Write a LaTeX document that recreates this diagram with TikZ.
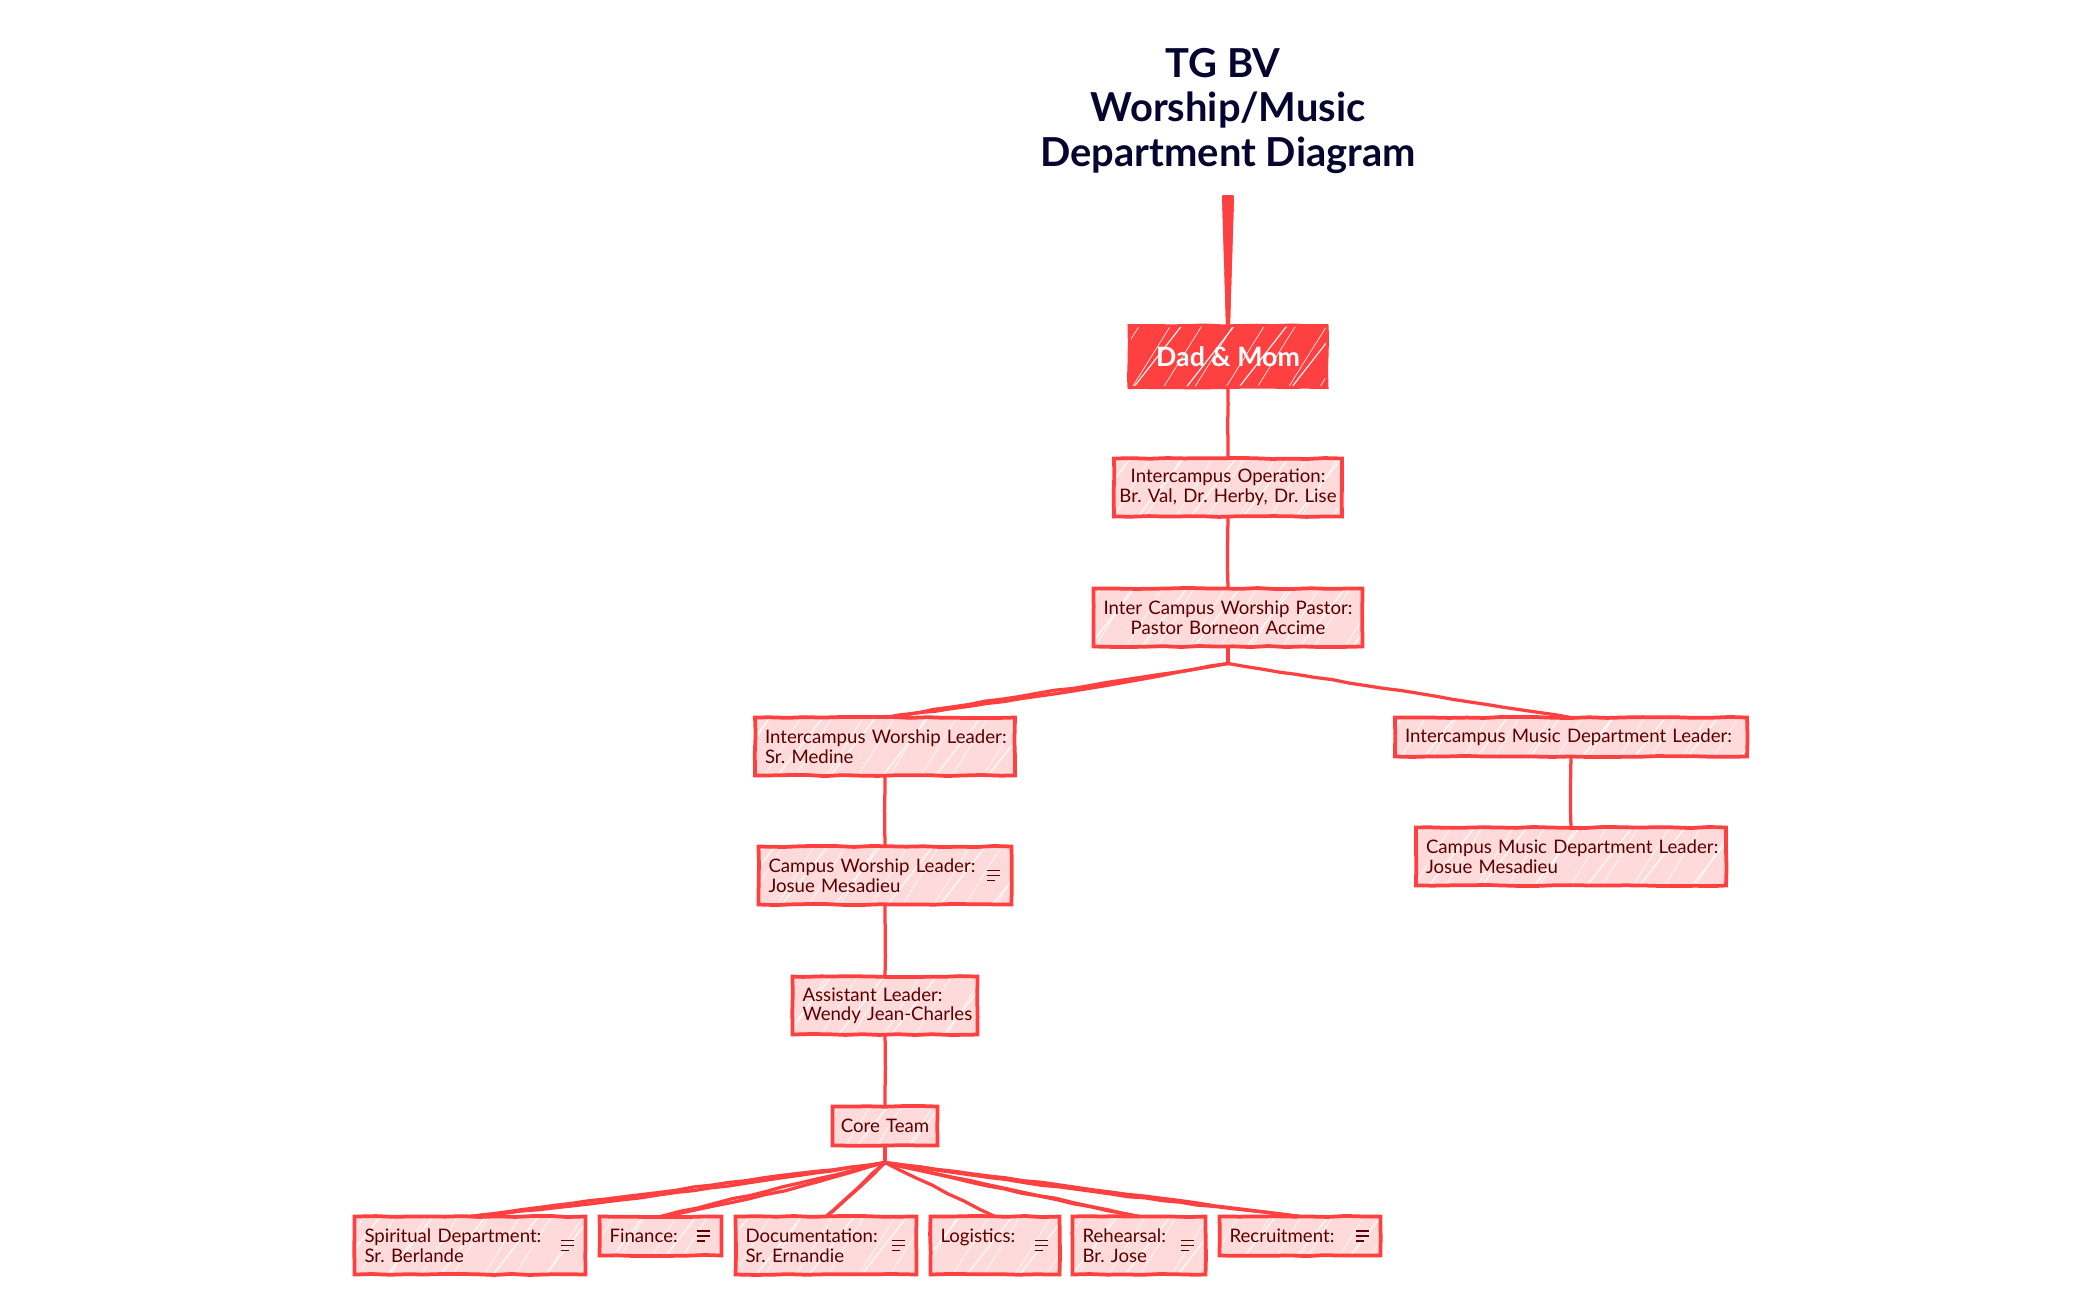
\documentclass[tikz,border=0pt]{standalone}
\usepackage{xcolor}
\usepackage{fontspec}
\setmainfont{Lato}
\usetikzlibrary{positioning, calc, patterns.meta, decorations.pathmorphing}
\definecolor{linered}{HTML}{FF4040}
\definecolor{boxpink}{HTML}{FFDADA}
\definecolor{textmaroon}{HTML}{5A0000}
\definecolor{titlenavy}{HTML}{05052F}
\frenchspacing

\begin{document}
\begin{tikzpicture}[
    sketch/.style={decorate, decoration={random steps, segment length=0.35cm, amplitude=0.012cm}},
    hachure/.style={preaction={fill=#1},
        preaction={pattern={Lines[angle=58, distance=0.53cm, line width=0.012cm]}, pattern color=white},
        preaction={pattern={Lines[angle=52, distance=0.83cm, line width=0.022cm]}, pattern color=white}},
    box/.style={rectangle, draw=linered, line width=0.075cm, hachure=boxpink, sketch, outer sep=0pt,
        inner xsep=0.2cm, inner ysep=0.1cm, minimum height=1.16cm, text=textmaroon, align=left,
        font=\fontsize{10.6}{11.1}\selectfont},
    short/.style={minimum height=0.78cm},
    middle/.style={align=center, inner xsep=0.05cm},
    rootbox/.style={rectangle, draw=linered, line width=0.06cm, hachure=linered, sketch, outer sep=0pt,
        minimum width=3.96cm, minimum height=1.24cm, text=white, font=\fontsize{15.2}{20}\selectfont\bfseries},
    link/.style={draw=linered, line width=0.065cm, line join=round, sketch}
]
\useasboundingbox (0,0) rectangle (42,-25.98);
\pgfmathsetseed{11}

% Title
\node[align=center, text=titlenavy, font=\fontsize{22.7}{25.2}\selectfont\bfseries] (title) at (24.56,-2.22)
    {TG BV\hspace*{0.2cm}\\Worship/Music\hspace*{0.2cm}\\Department Diagram};
\coordinate (stemtop) at (24.56,-3.9);

% Top of the chain
\node[rootbox] (dad) at (24.56,-7.13) {Dad \& Mom};
\node[box, middle, text width=4.46cm, below=1.42cm of dad] (operation) {Intercampus Operation:\\Br. Val, Dr. Herby, Dr. Lise};
\node[box, middle, text width=5.28cm, below=1.44cm of operation] (pastor) {Inter Campus Worship Pastor:\\Pastor Borneon Accime};
\coordinate[below=0.34cm of pastor] (pastorjoin);

% Worship side
\node[box, text width=4.8cm, below=1.42cm of pastor, xshift=-6.86cm] (lead) {\mbox{Intercampus Worship Leader:}\\Sr. Medine};
\node[box, text width=4.66cm, below=1.42cm of lead] (campus) {Campus Worship Leader:\\Josue Mesadieu};
\node[box, text width=3.3cm, below=1.44cm of campus] (assistant) {Assistant Leader:\\\mbox{Wendy Jean-Charles}};
\node[box, short, middle, text width=2cm, below=1.44cm of assistant] (core) {Core Team};
\coordinate[below=0.34cm of core] (corejoin);

% Music side
\node[box, short, text width=6.64cm, below=1.42cm of pastor, xshift=6.86cm] (music) {\mbox{Intercampus Music Department Leader:}};
\node[box, text width=5.8cm, below=1.42cm of music] (campusmusic) {\mbox{Campus Music Department Leader:}\\Josue Mesadieu};

% Core Team departments
\node[box, text width=4.22cm, below=1.42cm of core, xshift=-8.3cm] (spiritual) {Spiritual Department:\\Sr. Berlande};
\node[box, short, text width=2.04cm, right=0.28cm of spiritual.north east, anchor=north west] (finance) {Finance:};
\node[box, text width=3.22cm, right=0.28cm of finance.north east, anchor=north west] (documentation) {Documentation:\\Sr. Ernandie};
\node[box, text width=2.18cm, right=0.28cm of documentation.north east, anchor=north west] (logistics) {Logistics:\\~};
\node[box, text width=2.26cm, right=0.26cm of logistics.north east, anchor=north west] (rehearsal) {Rehearsal:\\Br. Jose};
\node[box, short, text width=2.82cm, right=0.28cm of rehearsal.north east, anchor=north west] (recruitment) {Recruitment:};

% Connectors
\path[fill=linered, rounded corners=0.04cm, hachure=linered] ($(stemtop)+(-0.12,0)$) -- ($(stemtop)+(0.12,0)$) -- ($(dad.north)+(0.04,0)$) -- ($(dad.north)+(-0.04,0)$) -- cycle;
\draw[link] (dad) -- (operation);
\draw[link] (operation) -- (pastor);
\draw[link] (pastor) -- (pastorjoin);
\foreach \child in {lead, music} {
    \draw[link] (pastorjoin) -- (\child.north);
}
\draw[link] (pastorjoin) to[bend left=1.5] (lead.north);
\draw[link] (lead) -- (campus);
\draw[link] (campus) -- (assistant);
\draw[link] (assistant) -- (core);
\draw[link] (music) -- (campusmusic);
\draw[link] (core) -- (corejoin);
\foreach \child in {spiritual, finance, documentation, logistics, rehearsal, recruitment} {
    \draw[link] (corejoin) -- (\child.north);
}
\foreach \child/\bendval in {spiritual/1.5, finance/3, documentation/2, rehearsal/-1, recruitment/-1} {
    \draw[link] (corejoin) to[bend left=\bendval] (\child.north);
}

% Menu marks
\foreach \owner in {campus, spiritual, finance, documentation, logistics, rehearsal, recruitment} {
    \draw[textmaroon, line width=0.022cm]
        ($(\owner.east)+(-0.5,0.1)$) -- ($(\owner.east)+(-0.24,0.1)$)
        ($(\owner.east)+(-0.5,0)$) -- ($(\owner.east)+(-0.24,0)$)
        ($(\owner.east)+(-0.5,-0.1)$) -- ($(\owner.east)+(-0.34,-0.1)$);
}

\end{tikzpicture}
\end{document}
